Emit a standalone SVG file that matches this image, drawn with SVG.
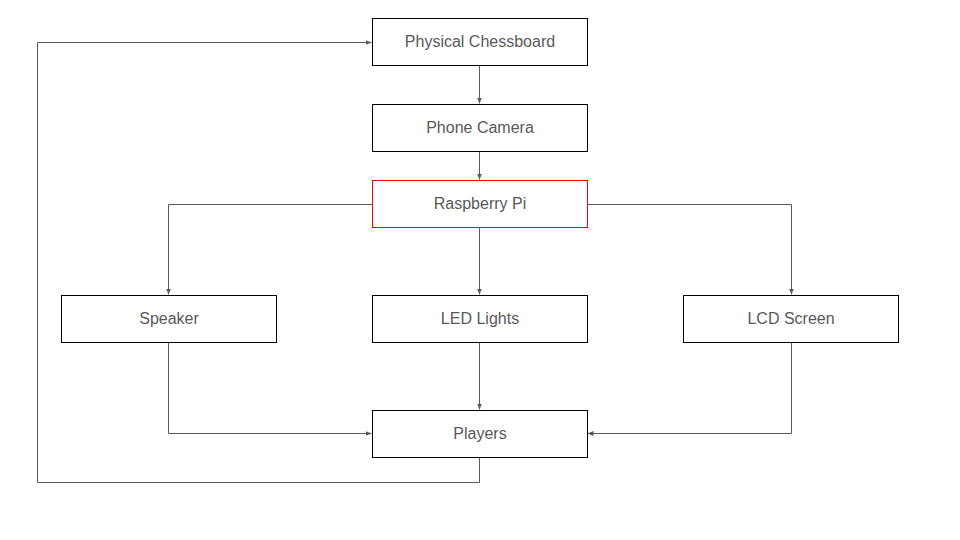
<svg xmlns="http://www.w3.org/2000/svg" width="960" height="540" viewBox="0 0 960 540">
<defs>
<marker id="ah" viewBox="0 0 6 6" refX="6" refY="3" markerWidth="6" markerHeight="6" orient="auto" markerUnits="userSpaceOnUse">
<path d="M0,0.5 L6,3 L0,5.5 Z" fill="#595959"/>
</marker>
<style>
.box{fill:#ffffff;stroke:#000000;stroke-width:1}
.red{stroke:#ff0000}
.lbl{font-family:"Liberation Sans",Arial,sans-serif;font-size:16px;fill:#595959;text-anchor:middle;dominant-baseline:central}
.con{fill:none;stroke:#595959;stroke-width:1;marker-end:url(#ah)}
</style>
</defs>
<rect width="960" height="540" fill="#ffffff"/>
<g id="connectors">
<path class="con" d="M479.5,65.5 V103.5"/>
<path class="con" d="M479.5,151.5 V179.5"/>
<path class="con" d="M372,204.5 H168.5 V294.5"/>
<path class="con" d="M479.5,227.5 V294.5"/>
<path class="con" d="M587,204.5 H791.5 V294.5"/>
<path class="con" d="M168.5,342.5 V433.5 H371.5"/>
<path class="con" d="M479.5,342.5 V409.5"/>
<path class="con" d="M791.5,342.5 V433.5 H587.5"/>
<path class="con" d="M479.5,457.5 V482.5 H37.5 V42.5 H371.5"/>
</g>
<g id="physical-chessboard"><rect class="box" x="372.5" y="18.5" width="215" height="47"/><text class="lbl" x="480" y="41.5">Physical Chessboard</text></g>
<g id="phone-camera"><rect class="box" x="372.5" y="104.5" width="215" height="47"/><text class="lbl" x="480" y="127.5">Phone Camera</text></g>
<g id="raspberry-pi"><rect class="box red" x="372.5" y="180.5" width="215" height="47"/><text class="lbl" x="480" y="203.5">Raspberry Pi</text></g>
<g id="speaker"><rect class="box" x="61.5" y="295.5" width="215" height="47"/><text class="lbl" x="169" y="318.5">Speaker</text></g>
<g id="led-lights"><rect class="box" x="372.5" y="295.5" width="215" height="47"/><text class="lbl" x="480" y="318.5">LED Lights</text></g>
<g id="lcd-screen"><rect class="box" x="683.5" y="295.5" width="215" height="47"/><text class="lbl" x="791" y="318.5">LCD Screen</text></g>
<g id="players"><rect class="box" x="372.5" y="410.5" width="215" height="47"/><text class="lbl" x="480" y="433.5">Players</text></g>
</svg>
